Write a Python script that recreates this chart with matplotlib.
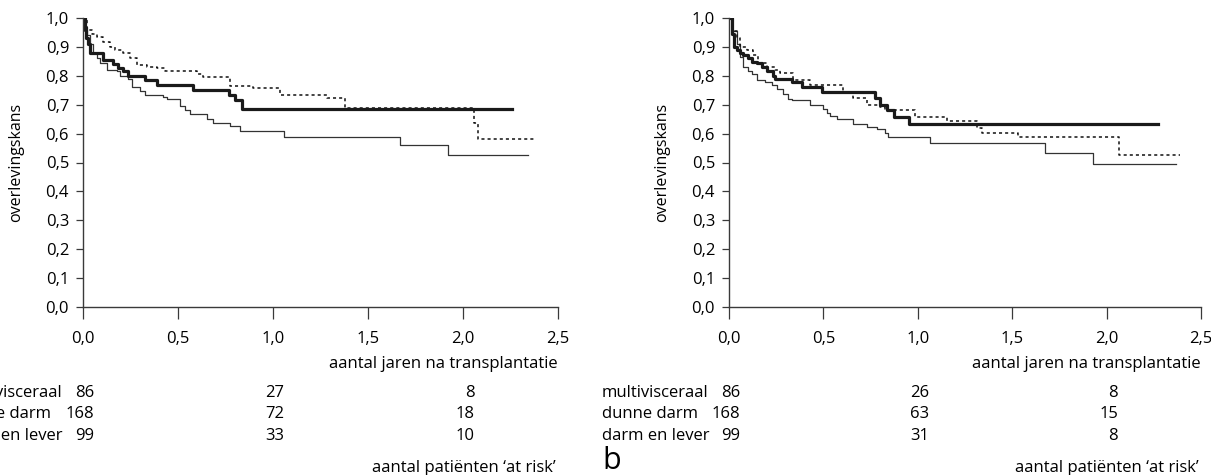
import matplotlib.pyplot as plt
from matplotlib import transforms

plt.rcParams['font.family'] = ['Open Sans', 'DejaVu Sans']

# at-risk table
groups = ['multivisceraal', 'dunne darm', 'darm en lever']
risk_times = [0.0, 1.0, 2.0]
risk_a = [[86, 27, 8], [168, 72, 18], [99, 33, 10]]
risk_b = [[86, 26, 8], [168, 63, 15], [99, 31, 8]]

xticks = [0.0, 0.5, 1.0, 1.5, 2.0, 2.5]
yticks = [0.0, 0.1, 0.2, 0.3, 0.4, 0.5, 0.6, 0.7, 0.8, 0.9, 1.0]

# panel a - survival curves (step points, last point = end of follow-up)
a_thick_t = [0, 0.01, 0.016, 0.025, 0.037, 0.107, 0.16, 0.186, 0.212, 0.238, 0.326,
             0.388, 0.577, 0.77, 0.80, 0.835, 2.26]
a_thick_s = [1.0, 0.96, 0.93, 0.91, 0.88, 0.855, 0.84, 0.828, 0.815, 0.80, 0.785,
             0.768, 0.751, 0.733, 0.716, 0.685, 0.685]
a_dot_t = [0, 0.02, 0.046, 0.072, 0.107, 0.142, 0.168, 0.212, 0.247, 0.283, 0.335,
           0.388, 0.432, 0.598, 0.633, 0.774, 0.896, 1.037, 1.284, 1.38, 2.058, 2.079, 2.38]
a_dot_s = [1.0, 0.96, 0.945, 0.935, 0.918, 0.90, 0.889, 0.878, 0.86, 0.837, 0.83,
           0.826, 0.818, 0.806, 0.795, 0.765, 0.758, 0.733, 0.722, 0.69, 0.635, 0.581, 0.581]
a_thin_t = [0, 0.01, 0.023, 0.037, 0.054, 0.072, 0.089, 0.125, 0.177, 0.195, 0.238,
            0.256, 0.30, 0.326, 0.423, 0.44, 0.51, 0.537, 0.563, 0.651, 0.686, 0.774,
            0.826, 1.058, 1.668, 1.921, 2.342]
a_thin_s = [1.0, 0.97, 0.94, 0.91, 0.88, 0.86, 0.843, 0.82, 0.815, 0.80, 0.789,
            0.76, 0.747, 0.733, 0.727, 0.72, 0.695, 0.68, 0.667, 0.651, 0.638, 0.626,
            0.609, 0.589, 0.561, 0.525, 0.525]

# panel b
b_thick_t = [0, 0.014, 0.026, 0.041, 0.058, 0.076, 0.102, 0.12, 0.147, 0.173, 0.2,
             0.235, 0.244, 0.332, 0.385, 0.491, 0.773, 0.80, 0.837, 0.874, 0.953, 2.27]
b_thick_s = [1.0, 0.945, 0.90, 0.89, 0.878, 0.872, 0.86, 0.849, 0.843, 0.832, 0.815,
             0.80, 0.79, 0.78, 0.762, 0.745, 0.722, 0.70, 0.682, 0.659, 0.632, 0.632]
b_dot_t = [0, 0.023, 0.041, 0.058, 0.094, 0.129, 0.155, 0.2, 0.244, 0.27, 0.341,
           0.429, 0.606, 0.659, 0.729, 0.80, 0.826, 0.985, 1.155, 1.314, 1.34, 1.53,
           2.066, 2.39]
b_dot_s = [1.0, 0.955, 0.93, 0.90, 0.889, 0.872, 0.843, 0.832, 0.82, 0.81, 0.785,
           0.768, 0.745, 0.722, 0.70, 0.693, 0.682, 0.659, 0.645, 0.618, 0.603, 0.587,
           0.526, 0.526]
b_thin_t = [0, 0.014, 0.041, 0.058, 0.076, 0.102, 0.12, 0.147, 0.191, 0.226, 0.253,
            0.288, 0.314, 0.332, 0.429, 0.5, 0.517, 0.535, 0.57, 0.659, 0.729, 0.782,
            0.826, 0.842, 1.065, 1.674, 1.93, 2.37]
b_thin_s = [1.0, 0.955, 0.91, 0.865, 0.832, 0.818, 0.806, 0.787, 0.78, 0.768, 0.755,
            0.737, 0.72, 0.716, 0.70, 0.686, 0.671, 0.66, 0.65, 0.634, 0.622, 0.616,
            0.601, 0.587, 0.566, 0.534, 0.496, 0.496]

W, H = 1211, 475
FS = 12
fig = plt.figure(figsize=(W / 100, H / 100), dpi=100)

def comma(v):
    return f'{v:.1f}'.replace('.', ',')

def panel(left_px, width_px, thick, dot, thin, risk, letter=None):
    ax = fig.add_axes([left_px / W, (H - 307) / H, width_px / W, 289 / H])
    ax.step(thin[0], thin[1], where='post', color='#333333', lw=0.9)
    ax.step(dot[0], dot[1], where='post', color='#111111', lw=1.1, linestyle=(0, (2, 2)))
    ax.step(thick[0], thick[1], where='post', color='#1a1a1a', lw=2.3)
    ax.set_xlim(0, 2.5)
    ax.set_ylim(0, 1.0)
    for s in ['top', 'right']:
        ax.spines[s].set_visible(False)
    for s in ['left', 'bottom']:
        ax.spines[s].set_color('#3a3a3a')
        ax.spines[s].set_linewidth(1.0)
    ax.set_xticks(xticks)
    ax.set_xticklabels([comma(v) for v in xticks], fontsize=FS)
    ax.set_yticks(yticks)
    ax.set_yticklabels([comma(v) for v in yticks], fontsize=FS)
    ax.tick_params(axis='x', length=8.5, width=0.9, color='#3a3a3a', pad=9)
    ax.tick_params(axis='y', length=5, width=0.9, color='#3a3a3a', pad=5)
    ax.set_ylabel('overlevingskans', fontsize=11.5)
    ax.yaxis.set_label_coords(-59 / width_px, 0.5)

    tr = transforms.blended_transform_factory(ax.transData, fig.transFigure)
    ax.text(2.5, 1 - 368 / H, 'aantal jaren na transplantatie', transform=tr,
            ha='right', va='baseline', fontsize=FS)
    rows_y = [393, 414, 436]
    for i, g in enumerate(groups):
        ax.text(-127 / 188.8, 1 - rows_y[i] / H, g, transform=tr,
                ha='left', va='center', fontsize=FS, clip_on=False)
        for j, t in enumerate(risk_times):
            ax.text(t + 0.06, 1 - rows_y[i] / H, str(risk[i][j]), transform=tr,
                    ha='right', va='center', fontsize=FS)
    ax.text(2.49, 1 - 468 / H, 'aantal patiënten \u2018at risk\u2019', transform=tr,
            ha='right', va='center', fontsize=FS)
    if letter:
        ax.text(-127 / 188.8, 1 - 461 / H, letter, transform=tr,
                ha='left', va='center', fontsize=22)
    return ax

panel(83, 475, (a_thick_t, a_thick_s), (a_dot_t, a_dot_s), (a_thin_t, a_thin_s), risk_a)
panel(729, 472, (b_thick_t, b_thick_s), (b_dot_t, b_dot_s), (b_thin_t, b_thin_s), risk_b, 'b')

fig.savefig('out.png', dpi=100)
